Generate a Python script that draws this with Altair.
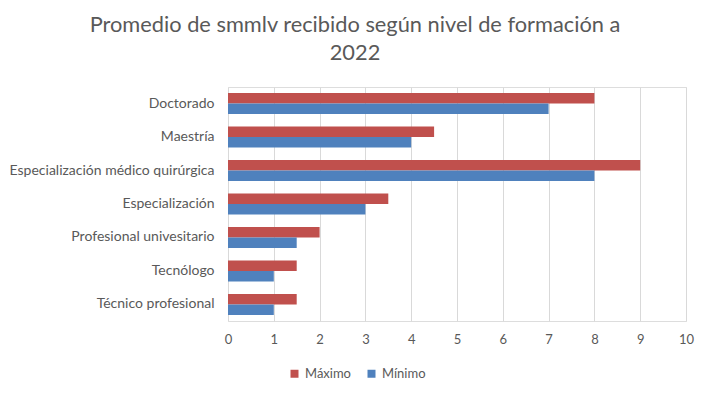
import altair as alt
import pandas as pd

categories = ["Doctorado", "Maestría", "Especialización médico quirúrgica", "Especialización",
              "Profesional univesitario", "Tecnólogo", "Técnico profesional"]
maximo = [8, 4.5, 9, 3.5, 2, 1.5, 1.5]
minimo = [7, 4, 8, 3, 1.5, 1, 1]
series = ["Máximo", "Mínimo"]
colors = ["#C0504D", "#4F81BD"]

rows = []
for c, mx, mn in zip(categories, maximo, minimo):
    rows.append({"nivel": c, "serie": "Máximo", "valor": mx})
    rows.append({"nivel": c, "serie": "Mínimo", "valor": mn})
df = pd.DataFrame(rows)

FONT = "Lato"
GRAY = "#595959"

chart = alt.Chart(df).mark_bar().encode(
    y=alt.Y("nivel:N", sort=categories, title=None,
            scale=alt.Scale(paddingInner=0.37, paddingOuter=0.18),
            axis=alt.Axis(labelFontSize=14, labelColor=GRAY, labelFont=FONT, ticks=False,
                          domain=False, labelPadding=14, labelLimit=300)),
    yOffset=alt.YOffset("serie:N", sort=series),
    x=alt.X("valor:Q", title=None,
            scale=alt.Scale(domain=[0, 10], nice=False),
            axis=alt.Axis(values=list(range(0, 11)), labelFontSize=13, labelColor=GRAY,
                          labelFont=FONT, ticks=False, domain=False, grid=True,
                          gridColor="#D9D9D9", labelPadding=12, labelFlush=False,
                          labelBound=False)),
    color=alt.Color("serie:N", sort=series,
                    scale=alt.Scale(domain=series, range=colors),
                    legend=alt.Legend(title=None, orient="none", direction="horizontal",
                                      legendX=60, legendY=280, symbolType="square",
                                      symbolSize=64, symbolStrokeWidth=0,
                                      labelFontSize=13, labelColor=GRAY, labelFont=FONT,
                                      columnPadding=14, labelOffset=4)),
).properties(
    width=458, height=234,
    title=alt.TitleParams(
        text=["Promedio de smmlv recibido según nivel de formación a", "2022"],
        anchor="middle", dx=-102, fontSize=21.8, font=FONT, fontWeight="normal",
        color=GRAY, lineHeight=28, offset=22),
    autosize=alt.AutoSizeParams(type="none"),
    padding={"left": 228, "top": 87, "right": 24, "bottom": 72},
).configure_view(stroke=None).configure(background="white")

chart.save("out.html", embed_options={"renderer": "svg", "actions": False})
